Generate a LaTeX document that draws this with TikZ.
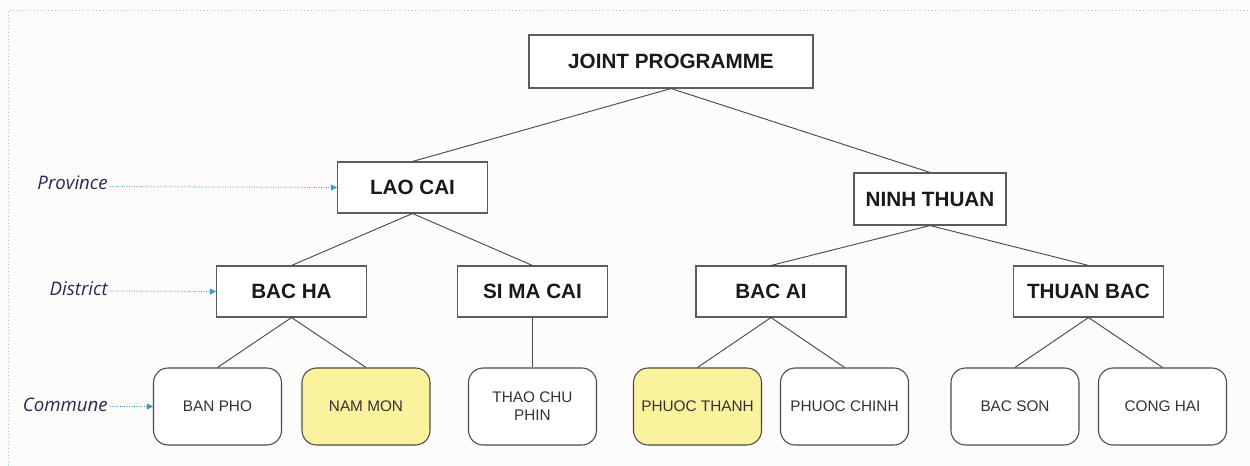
\documentclass[tikz,border=0pt]{standalone}
\usepackage{fontspec}
\setmainfont{Liberation Sans}
\newfontfamily\lblfont{Open Sans}
\usetikzlibrary{arrows.meta}
\definecolor{bg}{HTML}{FDFCFA}
\definecolor{frame}{HTML}{A9C9D2}
\definecolor{lbl}{HTML}{2E2650}
\definecolor{arr}{HTML}{3A9FC6}
\definecolor{edge}{HTML}{4A4A4A}
\definecolor{yel}{HTML}{FBF29E}
\tikzset{
  x=0.75pt, y=-0.75pt,
  top/.style={draw=edge!90, line width=0.8pt, fill=white, minimum width=284*0.75pt, minimum height=53*0.75pt, inner sep=0pt, font=\fontsize{15.5pt}{18pt}\selectfont\bfseries, text=black!90},
  mid/.style={draw=edge!90, line width=0.8pt, fill=white, minimum width=150*0.75pt, minimum height=51*0.75pt, inner sep=0pt, font=\fontsize{15.5pt}{18pt}\selectfont\bfseries, text=black!90},
  comm/.style={draw=edge, line width=0.8pt, fill=white, rounded corners=11pt, minimum width=128*0.75pt, minimum height=77*0.75pt, inner sep=0pt, align=center, font=\fontsize{11.5pt}{13.5pt}\selectfont, text=black!80},
  hl/.style={comm, fill=yel},
  link/.style={draw=edge, line width=0.7pt},
  lvl/.style={font=\lblfont\itshape\fontsize{14pt}{16pt}\selectfont, text=lbl, anchor=east, inner sep=0pt},
  pointer/.style={draw=arr, line width=0.6pt, dash pattern=on 0.6pt off 1.2pt, -{Triangle[length=4.5pt,width=4.5pt]}},
}
\begin{document}
\begin{tikzpicture}
\useasboundingbox (0,0) rectangle (1250,466);
\fill[bg] (0,0) rectangle (1250,466);
\draw[frame, dotted, line width=0.6pt] (8,466) -- (8,10) -- (1250,10);

\node[top] (jp) at (671,61.5) {JOINT PROGRAMME};
\node[mid] (lc) at (412.5,187.5) {LAO CAI};
\node[mid, minimum width=152*0.75pt, minimum height=52*0.75pt] (nt) at (930,199) {NINH THUAN};
\node[mid] (bh) at (291.5,291.5) {BAC HA};
\node[mid] (smc) at (532.5,291.5) {SI MA CAI};
\node[mid] (ba) at (771,291.5) {BAC AI};
\node[mid] (tb) at (1088.5,291.5) {THUAN BAC};

\node[comm] (bp) at (217.5,406.5) {BAN PHO};
\node[hl] (nm) at (366,406.5) {NAM MON};
\node[comm] (tcp) at (532.5,406.5) {THAO CHU\\PHIN};
\node[hl] (pt) at (697.5,406.5) {PHUOC THANH};
\node[comm] (pc) at (844.5,406.5) {PHUOC CHINH};
\node[comm] (bs) at (1015,406.5) {BAC SON};
\node[comm] (ch) at (1162.5,406.5) {CONG HAI};

\draw[link] (jp.south) -- (lc.north);
\draw[link] (jp.south) -- (nt.north);
\draw[link] (lc.south) -- (bh.north);
\draw[link] (lc.south) -- (smc.north);
\draw[link] (nt.south) -- (ba.north);
\draw[link] (nt.south) -- (tb.north);
\draw[link] (bh.south) -- (bp.north);
\draw[link] (bh.south) -- (nm.north);
\draw[link] (smc.south) -- (tcp.north);
\draw[link] (ba.south) -- (pt.north);
\draw[link] (ba.south) -- (pc.north);
\draw[link] (tb.south) -- (bs.north);
\draw[link] (tb.south) -- (ch.north);

\node[lvl] (lp) at (108,183) {Province};
\node[lvl] (ld) at (108,289) {District};
\node[lvl] (lcm) at (108,405) {Commune};
\coordinate (lpe) at (110,186.5);
\coordinate (lde) at (110,291);
\coordinate (lce) at (110,406.5);
\draw[pointer] (lpe) -- (lc.west);
\draw[pointer] (lde) -- (bh.west);
\draw[pointer] (lce) -- (bp.west);
\end{tikzpicture}
\end{document}
